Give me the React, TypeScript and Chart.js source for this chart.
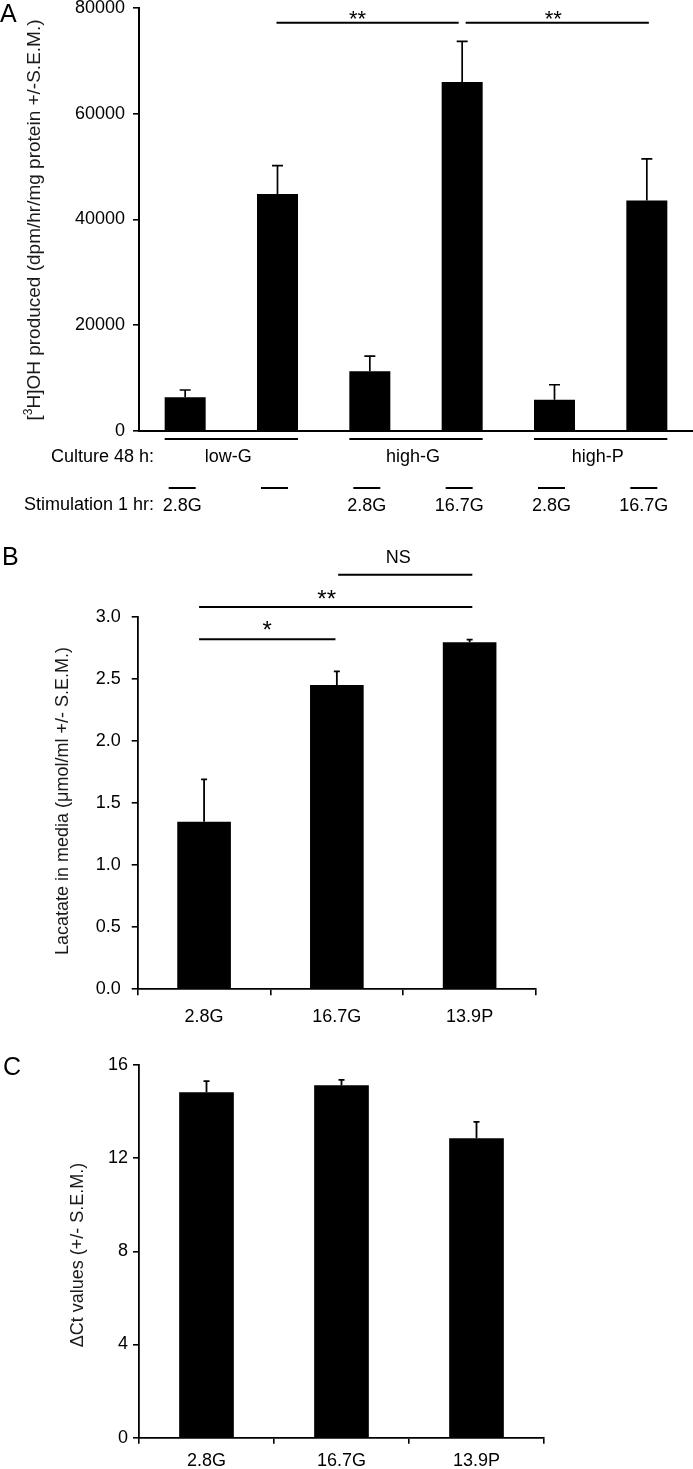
import React, { useEffect, useRef } from 'react';
import { Chart, registerables } from 'chart.js';

Chart.register(...registerables);

const FONT = '"Liberation Sans", Arial, Helvetica, sans-serif';

// ---------- Panel A data ----------
const aCategories = ['low-G 2.8G', 'low-G 16.7G', 'high-G 2.8G', 'high-G 16.7G', 'high-P 2.8G', 'high-P 16.7G'];
const aValues = [6400, 44800, 11300, 66000, 5900, 43600];
const aErrors = [1350, 5400, 2850, 7700, 2850, 7850];
const aStimLabels = ['2.8G', '', '2.8G', '16.7G', '2.8G', '16.7G'];
const aCultureLabels = ['low-G', 'high-G', 'high-P'];
const aCultureFrom = [0, 2, 4];
const aCultureTo = [1, 3, 5];
const aTickStep = 20000;
const aMax = 80000;
const aSigFrom = [1, 3];
const aSigTo = [3, 5];
const aSigLevel = [77200, 77200];
const aSigText = ['**', '**'];

// ---------- Panel B data ----------
const bCategories = ['2.8G', '16.7G', '13.9P'];
const bValues = [1.35, 2.45, 2.795];
const bErrors = [0.34, 0.11, 0.02];
const bTickStep = 0.5;
const bMax = 3.0;
const bSigFrom = [0, 0, 1];
const bSigTo = [1, 2, 2];
const bSigLevel = [2.818, 3.078, 3.338];
const bSigText = ['*', '**', 'NS'];

// ---------- Panel C data ----------
const cCategories = ['2.8G', '16.7G', '13.9P'];
const cValues = [14.83, 15.13, 12.86];
const cErrors = [0.48, 0.23, 0.7];
const cTickStep = 4;
const cMax = 16;

type TitlePart = { t: string; sup?: boolean };

interface PanelSpec {
  name: string;
  canvasTop: number;
  canvasHeight: number;
  labels: string[];
  values: number[];
  errors: number[];
  max: number;
  step: number;
  tickFmt: (v: number) => string;
  top: number;
  left: number;
  right: number;
  bottom: number;
  barPct: number;
  xTicks: boolean;
  xLabels: boolean;
  xPad: number;
  yPad: number;
  axisWidth: number;
  cap: number;
  errWidth: number;
  sig: { from: number[]; to: number[]; level: number[]; text: string[]; ins1: number[]; ins2: number[]; tdx: number[]; tdy: number[]; fs: number[] };
  letter: { t: string; x: number; y: number };
  title: { parts: TitlePart[]; x: number; y: number; size: number };
  extra?: (chart: any, ctx: CanvasRenderingContext2D) => void;
}

function drawRotatedTitle(ctx: CanvasRenderingContext2D, parts: TitlePart[], x: number, y: number, size: number) {
  ctx.save();
  ctx.translate(x, y);
  ctx.rotate(-Math.PI / 2);
  ctx.fillStyle = '#1a1a1a';
  ctx.textBaseline = 'alphabetic';
  ctx.textAlign = 'left';
  const supSize = Math.round(size * 0.62);
  let total = 0;
  parts.forEach((p) => {
    ctx.font = `${p.sup ? supSize : size}px ${FONT}`;
    total += ctx.measureText(p.t).width;
  });
  let cx = -total / 2;
  parts.forEach((p) => {
    ctx.font = `${p.sup ? supSize : size}px ${FONT}`;
    ctx.fillText(p.t, cx, p.sup ? -size * 0.4 : 0);
    cx += ctx.measureText(p.t).width;
  });
  ctx.restore();
}

function makeOverlay(spec: PanelSpec) {
  return {
    id: 'overlay_' + spec.name,
    afterDraw(chart: any) {
      const ctx: CanvasRenderingContext2D = chart.ctx;
      const meta = chart.getDatasetMeta(0);
      const ys = chart.scales.y;
      ctx.save();
      ctx.translate(0, -spec.canvasTop);
      const off = spec.canvasTop;
      // error bars (upper)
      ctx.strokeStyle = '#000';
      ctx.lineWidth = spec.errWidth;
      meta.data.forEach((bar: any, i: number) => {
        const p = bar.getProps(['x', 'y'], true);
        const top = ys.getPixelForValue(spec.values[i] + spec.errors[i]) + off;
        ctx.beginPath();
        ctx.moveTo(p.x, p.y + off);
        ctx.lineTo(p.x, top);
        ctx.moveTo(p.x - spec.cap / 2, top);
        ctx.lineTo(p.x + spec.cap / 2, top);
        ctx.stroke();
      });
      // significance bars
      const s = spec.sig;
      s.from.forEach((f, k) => {
        const x1 = meta.data[f].getProps(['x'], true).x + s.ins1[k];
        const x2 = meta.data[s.to[k]].getProps(['x'], true).x + s.ins2[k];
        const yy = ys.getPixelForValue(s.level[k]) + off;
        ctx.strokeStyle = '#000';
        ctx.lineWidth = 2;
        ctx.beginPath();
        ctx.moveTo(x1, yy);
        ctx.lineTo(x2, yy);
        ctx.stroke();
        ctx.fillStyle = '#000';
        ctx.font = `${s.fs[k]}px ${FONT}`;
        ctx.textAlign = 'center';
        ctx.textBaseline = 'alphabetic';
        ctx.fillText(s.text[k], (x1 + x2) / 2 + s.tdx[k], yy + s.tdy[k]);
      });
      // panel letter
      ctx.fillStyle = '#000';
      ctx.font = `25px ${FONT}`;
      ctx.textAlign = 'left';
      ctx.textBaseline = 'alphabetic';
      ctx.fillText(spec.letter.t, spec.letter.x, spec.letter.y);
      // axis title
      drawRotatedTitle(ctx, spec.title.parts, spec.title.x, spec.title.y, spec.title.size);
      if (spec.extra) spec.extra(chart, ctx);
      ctx.restore();
    },
  };
}

function buildChart(canvas: HTMLCanvasElement, spec: PanelSpec) {
  const tickFont = { family: FONT, size: 18 };
  return new Chart(canvas, {
    type: 'bar',
    data: {
      labels: spec.labels,
      datasets: [
        {
          data: spec.values,
          backgroundColor: '#000',
          borderWidth: 0,
          barPercentage: spec.barPct,
          categoryPercentage: 1,
        },
      ],
    },
    options: {
      responsive: false,
      maintainAspectRatio: false,
      animation: false,
      devicePixelRatio: 1,
      layout: {
        padding: { top: spec.top - spec.canvasTop, right: 693 - spec.right, left: 0, bottom: 0 },
      },
      plugins: { legend: { display: false }, tooltip: { enabled: false }, title: { display: false } },
      scales: {
        x: {
          offset: true,
          grid: {
            display: spec.xTicks,
            drawOnChartArea: false,
            offset: true,
            tickLength: 6,
            color: '#000',
            lineWidth: 1.6,
          },
          border: { display: true, color: '#000', width: spec.axisWidth },
          ticks: { display: spec.xLabels, color: '#000', font: tickFont, padding: spec.xPad, maxRotation: 0, autoSkip: false },
          afterFit: (sc: any) => {
            sc.height = spec.canvasTop + spec.canvasHeight - spec.bottom;
          },
        },
        y: {
          min: 0,
          max: spec.max,
          ticks: {
            stepSize: spec.step,
            color: '#000',
            font: tickFont,
            padding: spec.yPad,
            callback: (v: any) => spec.tickFmt(Number(v)),
          },
          grid: { display: true, drawOnChartArea: false, tickLength: 6, color: '#000', lineWidth: 1.6 },
          border: { display: true, color: '#000', width: spec.axisWidth },
          afterFit: (sc: any) => {
            sc.width = spec.left;
          },
        },
      },
    },
    plugins: [makeOverlay(spec)],
  } as any);
}

function drawPanelAExtras(chart: any, ctx: CanvasRenderingContext2D) {
  const meta = chart.getDatasetMeta(0);
  const xs = meta.data.map((b: any) => b.getProps(['x', 'width'], true));
  ctx.strokeStyle = '#000';
  ctx.fillStyle = '#000';
  ctx.lineWidth = 2;
  ctx.font = `18px ${FONT}`;
  ctx.textBaseline = 'alphabetic';
  // culture group lines + labels
  aCultureLabels.forEach((lab, g) => {
    const a = xs[aCultureFrom[g]];
    const b = xs[aCultureTo[g]];
    const x1 = a.x - a.width / 2;
    const x2 = b.x + b.width / 2;
    ctx.beginPath();
    ctx.moveTo(x1, 439);
    ctx.lineTo(x2, 439);
    ctx.stroke();
    ctx.textAlign = 'center';
    ctx.fillText(lab, (x1 + x2) / 2 - 3, 462);
  });
  // stimulation short lines + labels
  xs.forEach((p: any, i: number) => {
    const cx = p.x - 3;
    ctx.beginPath();
    ctx.moveTo(cx - 13.5, 488);
    ctx.lineTo(cx + 13.5, 488);
    ctx.stroke();
    if (aStimLabels[i]) {
      ctx.textAlign = 'center';
      ctx.fillText(aStimLabels[i], cx, 511);
    }
  });
  ctx.textAlign = 'right';
  ctx.fillText('Culture 48 h:', 154, 462);
  ctx.fillText('Stimulation 1 hr:', 154, 510);
}

const specA: PanelSpec = {
  name: 'A',
  canvasTop: -20,
  canvasHeight: 550,
  labels: aCategories,
  values: aValues,
  errors: aErrors,
  max: aMax,
  step: aTickStep,
  tickFmt: (v) => String(v),
  top: 8,
  left: 139,
  right: 693,
  bottom: 431,
  barPct: 0.444,
  xTicks: false,
  xLabels: false,
  xPad: 0,
  yPad: 8,
  axisWidth: 2,
  cap: 11,
  errWidth: 1.7,
  sig: {
    from: aSigFrom,
    to: aSigTo,
    level: aSigLevel,
    text: aSigText,
    ins1: [-1, 3.5],
    ins2: [-3.5, 2],
    tdx: [-10, -4],
    tdy: [3, 3],
    fs: [22, 22],
  },
  letter: { t: 'A', x: 0, y: 22 },
  title: {
    parts: [{ t: '[' }, { t: '3', sup: true }, { t: 'H]OH produced (dpm/hr/mg protein +/-S.E.M.)' }],
    x: 39.5,
    y: 220,
    size: 19,
  },
  extra: drawPanelAExtras,
};

const specB: PanelSpec = {
  name: 'B',
  canvasTop: 530,
  canvasHeight: 500,
  labels: bCategories,
  values: bValues,
  errors: bErrors,
  max: bMax,
  step: bTickStep,
  tickFmt: (v) => v.toFixed(1),
  top: 616.7,
  left: 137.7,
  right: 536,
  bottom: 989.3,
  barPct: 0.404,
  xTicks: true,
  xLabels: true,
  xPad: 11,
  yPad: 11,
  axisWidth: 1.8,
  cap: 6,
  errWidth: 1.8,
  sig: {
    from: bSigFrom,
    to: bSigTo,
    level: bSigLevel,
    text: bSigText,
    ins1: [-5, -5, 1.3],
    ins2: [-1.4, 2.7, 2.7],
    tdx: [0, -9, -7],
    tdy: [-1, 0, -11.7],
    fs: [24, 24, 18],
  },
  letter: { t: 'B', x: 2, y: 565 },
  title: {
    parts: [{ t: 'Lacatate in media (\u03bcmol/ml +/- S.E.M.)' }],
    x: 68,
    y: 801,
    size: 18,
  },
};

const specC: PanelSpec = {
  name: 'C',
  canvasTop: 1030,
  canvasHeight: 439,
  labels: cCategories,
  values: cValues,
  errors: cErrors,
  max: cMax,
  step: cTickStep,
  tickFmt: (v) => String(v),
  top: 1065,
  left: 139,
  right: 544,
  bottom: 1437.7,
  barPct: 0.405,
  xTicks: true,
  xLabels: true,
  xPad: 7,
  yPad: 5,
  axisWidth: 1.8,
  cap: 6,
  errWidth: 1.8,
  sig: { from: [], to: [], level: [], text: [], ins1: [], ins2: [], tdx: [], tdy: [], fs: [] },
  letter: { t: 'C', x: 3, y: 1075 },
  title: {
    parts: [{ t: '\u0394Ct values (+/- S.E.M.)' }],
    x: 83,
    y: 1255,
    size: 18,
  },
};

export default function App() {
  const aRef = useRef<HTMLCanvasElement>(null);
  const bRef = useRef<HTMLCanvasElement>(null);
  const cRef = useRef<HTMLCanvasElement>(null);

  useEffect(() => {
    const charts = [
      buildChart(aRef.current as HTMLCanvasElement, specA),
      buildChart(bRef.current as HTMLCanvasElement, specB),
      buildChart(cRef.current as HTMLCanvasElement, specC),
    ];
    return () => charts.forEach((c) => c.destroy());
  }, []);

  const cs = (s: PanelSpec): React.CSSProperties => ({
    position: 'absolute',
    left: 0,
    top: s.canvasTop,
    width: 693,
    height: s.canvasHeight,
  });

  return (
    <div
      style={{
        position: 'absolute',
        left: 0,
        top: 0,
        width: 693,
        height: 1469,
        overflow: 'hidden',
        background: '#fff',
      }}
    >
      <canvas ref={aRef} width={693} height={specA.canvasHeight} style={cs(specA)} />
      <canvas ref={bRef} width={693} height={specB.canvasHeight} style={cs(specB)} />
      <canvas ref={cRef} width={693} height={specC.canvasHeight} style={cs(specC)} />
    </div>
  );
}
